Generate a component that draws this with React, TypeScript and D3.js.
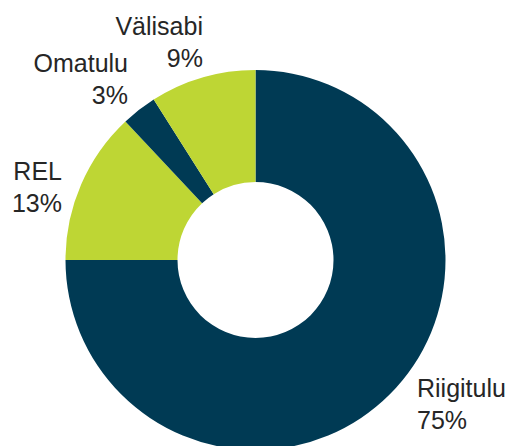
import React from "react";
import * as d3 from "d3";

const categories = ["Riigitulu", "REL", "Omatulu", "Välisabi"];
const values = [75, 13, 3, 9];
const percentLabels = ["75%", "13%", "3%", "9%"];

const NAVY = "#003a54";
const GREEN = "#bed634";
const sliceColors = [NAVY, GREEN, NAVY, GREEN];

// where each label block sits, and how its lines are aligned
const labelLayout = [
  { x: 417, y: 397, anchor: "start" },
  { x: 62, y: 180, anchor: "end" },
  { x: 128, y: 72, anchor: "end" },
  { x: 203, y: 35, anchor: "end" },
];

const App = () => {
  const width = 513;
  const height = 446;
  const cx = 255.5;
  const cy = 260;
  const outer = 190;
  const inner = 78;

  const pie = d3
    .pie<number>()
    .sort(null)
    .startAngle(0)
    .endAngle(2 * Math.PI)
    .value(d => d);
  const arcs = pie(values);
  const arc = d3
    .arc<d3.PieArcDatum<number>>()
    .innerRadius(inner)
    .outerRadius(outer);

  return (
    <div style={{ position: "absolute", left: 0, top: 0 }}>
      <svg width={width} height={height} style={{ display: "block" }}>
        <rect width={width} height={height} fill="#fff" />
        <g transform={`translate(${cx},${cy})`}>
          {arcs.map((a, i) => (
            <path key={categories[i]} d={arc(a) || ""} fill={sliceColors[i]} />
          ))}
        </g>
        {categories.map((c, i) => {
          const l = labelLayout[i];
          return (
            <text
              key={c}
              x={l.x}
              y={l.y}
              textAnchor={l.anchor}
              fontFamily="'Liberation Sans', Arial, sans-serif"
              fontSize={25}
              fill="#262626"
            >
              <tspan x={l.x}>{c}</tspan>
              <tspan x={l.x} dy={31.5}>
                {percentLabels[i]}
              </tspan>
            </text>
          );
        })}
      </svg>
    </div>
  );
};

export default App;
